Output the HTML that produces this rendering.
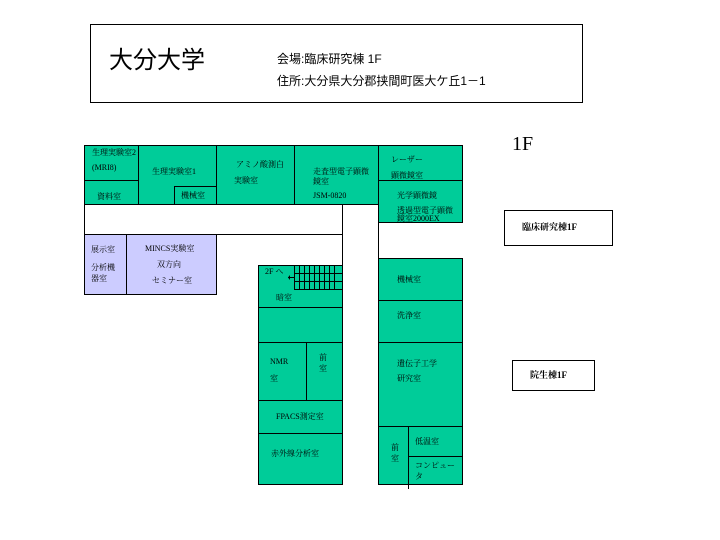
<!DOCTYPE html><html><head><meta charset="utf-8"><style>
body{margin:0;width:720px;height:540px;background:#fff;position:relative;font-family:"Liberation Serif","Noto Serif CJK SC","Noto Sans CJK JP",serif;overflow:hidden}
.b{position:absolute;border:1px solid #000;box-sizing:border-box}
.g{background:#00CC99}.l{background:#CCCCFF}
.t{position:absolute;font-size:8px;line-height:11px;white-space:nowrap}
</style></head><body>
<div class="b" style="left:90px;top:24px;width:493px;height:79px"></div>
<div class="t" style="left:109px;top:47px;font-size:24px;line-height:28px;font-family:'Liberation Sans','Noto Sans CJK JP',sans-serif">大分大学</div>
<div class="t" style="left:277px;top:52px;font-size:12px;line-height:14px;font-family:'Liberation Sans','Noto Sans CJK JP',sans-serif">会場:臨床研究棟 1F</div>
<div class="t" style="left:277px;top:74px;font-size:12px;line-height:14px;font-family:'Liberation Sans','Noto Sans CJK JP',sans-serif">住所:大分県大分郡挟間町医大ケ丘1－1</div>
<div class="t" style="left:512px;top:133px;font-size:20px;line-height:22px">1F</div>
<div class="b" style="left:504px;top:210px;width:109px;height:36px"></div>
<div class="t" style="left:522px;top:222px;font-size:9px;font-weight:bold">臨床研究棟1F</div>
<div class="b" style="left:512px;top:360px;width:83px;height:31px"></div>
<div class="t" style="left:530px;top:370px;font-size:9px;font-weight:bold">院生棟1F</div>
<div class="b" style="left:84px;top:200px;width:259px;height:35px;border-top:none"></div>
<div class="b" style="left:342px;top:234px;width:1px;height:60px;border-width:0 0 0 1px"></div>
<div class="b" style="left:378px;top:210px;width:1px;height:50px;border-width:0 0 0 1px"></div>
<div class="b g" style="left:84px;top:145px;width:55px;height:36px"></div>
<div class="t" style="left:92px;top:147px">生理実験室2</div><div class="t" style="left:92px;top:162px">(MRI8)</div>
<div class="b g" style="left:84px;top:180px;width:55px;height:25px"></div><div class="t" style="left:97px;top:191px">資料室</div>
<div class="b g" style="left:138px;top:145px;width:79px;height:60px"></div><div class="t" style="left:152px;top:166px">生理実験室1</div>
<div class="b g" style="left:174px;top:186px;width:43px;height:19px"></div><div class="t" style="left:181px;top:190px">機械室</div>
<div class="b g" style="left:216px;top:145px;width:79px;height:60px"></div><div class="t" style="left:236px;top:159px">アミノ酸測白</div><div class="t" style="left:234px;top:175px">実験室</div>
<div class="b g" style="left:294px;top:145px;width:85px;height:60px"></div><div class="t" style="left:313px;top:166px">走査型電子顕微</div><div class="t" style="left:313px;top:176px">鏡室</div><div class="t" style="left:313px;top:190px">JSM-0820</div>
<div class="b g" style="left:378px;top:145px;width:85px;height:36px"></div><div class="t" style="left:391px;top:154px">レーザー</div><div class="t" style="left:391px;top:170px">顕微鏡室</div>
<div class="b g" style="left:378px;top:180px;width:85px;height:43px"></div><div class="t" style="left:397px;top:190px">光学顕微鏡</div><div class="t" style="left:397px;top:205px">透過型電子顕微</div><div class="t" style="left:397px;top:213px">鏡室2000EX</div>
<div class="b l" style="left:84px;top:234px;width:43px;height:61px"></div><div class="t" style="left:91px;top:244px">展示室</div><div class="t" style="left:91px;top:262px">分析機</div><div class="t" style="left:91px;top:273px">器室</div>
<div class="b l" style="left:126px;top:234px;width:91px;height:61px"></div><div class="t" style="left:145px;top:243px">MINCS実験室</div><div class="t" style="left:157px;top:259px">双方向</div><div class="t" style="left:152px;top:275px">セミナー室</div>
<div class="b g" style="left:258px;top:265px;width:85px;height:43px"></div>
<svg style="position:absolute;left:288px;top:265px" width="55" height="25"><g stroke="#000" stroke-width="1" fill="none"><path d="M6.5 0V24.5H55M6 8.5H55M6 16.5H55"/><path d="M11.5 0v25M16.5 0v25M21.5 0v25M26.5 0v25M31.5 0v25M36.5 0v25M41.5 0v25M46.5 0v25"/></g><path d="M0 12.5h7" stroke="#000"/><path d="M2 10l-2 2.5 2 2.5z" fill="#000"/></svg>
<div class="t" style="left:265px;top:266px">2F へ</div><div class="t" style="left:276px;top:292px">暗室</div>
<div class="b g" style="left:258px;top:307px;width:85px;height:36px"></div>
<div class="b g" style="left:258px;top:342px;width:85px;height:59px"></div>
<div class="b" style="left:306px;top:342px;width:1px;height:60px;border-width:0 0 0 1px"></div>
<div class="t" style="left:270px;top:356px">NMR</div><div class="t" style="left:270px;top:373px">室</div>
<div class="t" style="left:319px;top:352px;white-space:normal;width:9px">前室</div>
<div class="b g" style="left:258px;top:400px;width:85px;height:34px"></div><div class="t" style="left:276px;top:411px">FPACS測定室</div>
<div class="b g" style="left:258px;top:433px;width:85px;height:52px"></div><div class="t" style="left:271px;top:448px">赤外線分析室</div>
<div class="b g" style="left:378px;top:258px;width:85px;height:43px"></div><div class="t" style="left:397px;top:274px">機械室</div>
<div class="b g" style="left:378px;top:300px;width:85px;height:43px"></div><div class="t" style="left:397px;top:310px">洗浄室</div>
<div class="b g" style="left:378px;top:342px;width:85px;height:85px"></div><div class="t" style="left:397px;top:358px">遺伝子工学</div><div class="t" style="left:397px;top:373px">研究室</div>
<div class="b g" style="left:378px;top:426px;width:31px;height:59px"></div><div class="t" style="left:391px;top:442px;white-space:normal;width:9px">前室</div>
<div class="b g" style="left:408px;top:426px;width:55px;height:31px"></div><div class="t" style="left:415px;top:436px">低温室</div>
<div class="b g" style="left:408px;top:456px;width:55px;height:29px"></div><div class="t" style="left:415px;top:460px">コンピュー</div><div class="t" style="left:415px;top:471px">タ</div>
<div class="b" style="left:408px;top:484px;width:1px;height:5px;border-width:0 0 0 1px"></div>
</body></html>
